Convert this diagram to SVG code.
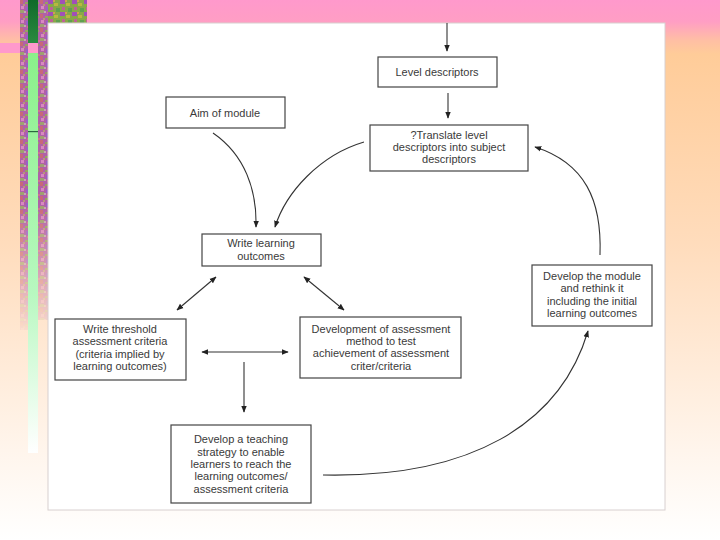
<svg xmlns="http://www.w3.org/2000/svg" width="720" height="540" viewBox="0 0 720 540">
<defs>
<linearGradient id="bg" x1="0" y1="0" x2="0" y2="1">
<stop offset="0" stop-color="#ff99cc"/>
<stop offset="0.04" stop-color="#ff9ec4"/>
<stop offset="0.075" stop-color="#ffbfa4"/>
<stop offset="0.1" stop-color="#ffcc99"/>
<stop offset="0.45" stop-color="#ffdcbc"/>
<stop offset="0.85" stop-color="#fff6ee"/>
<stop offset="1" stop-color="#ffffff"/>
</linearGradient>
<linearGradient id="green" x1="0" y1="0" x2="0" y2="1">
<stop offset="0" stop-color="#8af08a"/>
<stop offset="0.6" stop-color="#b8f8c0"/>
<stop offset="1" stop-color="#ffffff"/>
</linearGradient>
<linearGradient id="dkgreen" x1="0" y1="0" x2="0" y2="1">
<stop offset="0" stop-color="#106a2a"/>
<stop offset="1" stop-color="#2a8a40"/>
</linearGradient>
<pattern id="tex" width="10" height="14" patternUnits="userSpaceOnUse">
<rect width="10" height="14" fill="#b060a8"/>
<rect x="0" y="0" width="3" height="4" fill="#c86878"/>
<rect x="5" y="2" width="4" height="2" fill="#98a060"/>
<rect x="1" y="6" width="3" height="3" fill="#d888c0"/>
<rect x="6" y="7" width="2" height="4" fill="#9860c8"/>
<rect x="3" y="4" width="2" height="2" fill="#b89878"/>
<rect x="0" y="10" width="4" height="3" fill="#a0a070"/>
<rect x="7" y="12" width="3" height="2" fill="#d07090"/>
<rect x="4" y="11" width="2" height="2" fill="#c0a8b0"/>
</pattern>
<pattern id="tex2" width="12" height="12" patternUnits="userSpaceOnUse">
<rect width="12" height="12" fill="#88a848"/>
<rect x="0" y="0" width="5" height="4" fill="#a050b8"/>
<rect x="6" y="3" width="4" height="3" fill="#b8b840"/>
<rect x="2" y="7" width="3" height="3" fill="#c06098"/>
<rect x="8" y="8" width="4" height="4" fill="#60a050"/>
<rect x="5" y="0" width="2" height="2" fill="#d0a050"/>
</pattern>
<linearGradient id="fadeL" x1="0" y1="0" x2="0" y2="1">
<stop offset="0" stop-color="#fff"/>
<stop offset="0.6" stop-color="#fff"/>
<stop offset="1" stop-color="#000"/>
</linearGradient>
<mask id="mL" maskUnits="userSpaceOnUse" x="0" y="0" width="60" height="340">
<rect x="0" y="0" width="60" height="340" fill="url(#fadeL)"/>
</mask>
<marker id="ah" viewBox="0 0 10 10" refX="9" refY="5" markerWidth="7" markerHeight="7" orient="auto-start-reverse" markerUnits="userSpaceOnUse">
<path d="M0,1 L10,5 L0,9 Z" fill="#222"/>
</marker>
<style>
.box{fill:#fff;stroke:#444;stroke-width:1.2}
.t{font-family:"Liberation Sans",Arial,sans-serif;font-size:11px;fill:#3a3a3a;text-anchor:middle}
.c{fill:none;stroke:#333;stroke-width:1.1}
</style>
</defs>
<rect x="0" y="0" width="720" height="540" fill="url(#bg)"/>
<rect x="0" y="43" width="48" height="10" fill="#ff99cc"/>
<g id="deco">
<g mask="url(#mL)">
<rect x="20" y="0" width="8" height="330" fill="url(#tex)"/>
<rect x="38" y="0" width="10" height="320" fill="url(#tex)"/>
</g>
<rect x="28" y="0" width="10" height="43" fill="url(#dkgreen)"/>
<rect x="28" y="53" width="10" height="400" fill="url(#green)"/>
<rect x="28" y="131" width="10" height="1.2" fill="#2a6a40"/>
<rect x="48" y="0" width="39" height="23" fill="url(#tex2)"/>
</g>
<rect x="48" y="23" width="617" height="487" fill="#fff" stroke="#d8d0d0" stroke-width="1"/>
<g id="connectors">
<line class="c" x1="447" y1="23" x2="447" y2="51" marker-end="url(#ah)"/>
<line class="c" x1="448" y1="93" x2="448" y2="118" marker-end="url(#ah)"/>
<path class="c" d="M213,133 C245,155 257,190 256,227" marker-end="url(#ah)"/>
<path class="c" d="M364,142 C320,155 286,192 275,227" marker-end="url(#ah)"/>
<line class="c" x1="216" y1="277" x2="177" y2="310" marker-start="url(#ah)" marker-end="url(#ah)"/>
<line class="c" x1="304" y1="277" x2="344" y2="310" marker-start="url(#ah)" marker-end="url(#ah)"/>
<line class="c" x1="202" y1="352" x2="288" y2="352" marker-start="url(#ah)" marker-end="url(#ah)"/>
<line class="c" x1="244" y1="362" x2="244" y2="412" marker-end="url(#ah)"/>
<path class="c" d="M323,475 C470,478 560,425 588,331" marker-end="url(#ah)"/>
<path class="c" d="M600,255 C602,200 585,163 535,147" marker-end="url(#ah)"/>
</g>
<g id="level">
<rect class="box" x="378" y="57" width="119" height="30"/>
<text class="t" x="437" y="76">Level descriptors</text>
</g>
<g id="translate">
<rect class="box" x="370" y="125" width="158" height="46"/>
<text class="t" x="449" y="139">?Translate level</text>
<text class="t" x="449" y="151">descriptors into subject</text>
<text class="t" x="449" y="163">descriptors</text>
</g>
<g id="aim">
<rect class="box" x="166" y="97" width="119" height="31"/>
<text class="t" x="225" y="117">Aim of module</text>
</g>
<g id="write">
<rect class="box" x="202" y="234" width="119" height="32"/>
<text class="t" x="261" y="247">Write learning</text>
<text class="t" x="261" y="260">outcomes</text>
</g>
<g id="threshold">
<rect class="box" x="55" y="319" width="131" height="61"/>
<text class="t" x="120" y="333">Write threshold</text>
<text class="t" x="120" y="345">assessment criteria</text>
<text class="t" x="120" y="358">(criteria implied by</text>
<text class="t" x="120" y="370">learning outcomes)</text>
</g>
<g id="development">
<rect class="box" x="300" y="317" width="161" height="61"/>
<text class="t" x="381" y="333">Development of assessment</text>
<text class="t" x="381" y="345">method to test</text>
<text class="t" x="381" y="357">achievement of assessment</text>
<text class="t" x="381" y="370">criter/criteria</text>
</g>
<g id="teaching">
<rect class="box" x="171" y="425" width="140" height="78"/>
<text class="t" x="241" y="443">Develop a teaching</text>
<text class="t" x="241" y="456">strategy to enable</text>
<text class="t" x="241" y="468">learners to reach the</text>
<text class="t" x="241" y="480">learning outcomes/</text>
<text class="t" x="241" y="493">assessment criteria</text>
</g>
<g id="module">
<rect class="box" x="532" y="265" width="120" height="61"/>
<text class="t" x="592" y="280">Develop the module</text>
<text class="t" x="592" y="292">and rethink it</text>
<text class="t" x="592" y="305">including the initial</text>
<text class="t" x="592" y="317">learning outcomes</text>
</g>
</svg>
